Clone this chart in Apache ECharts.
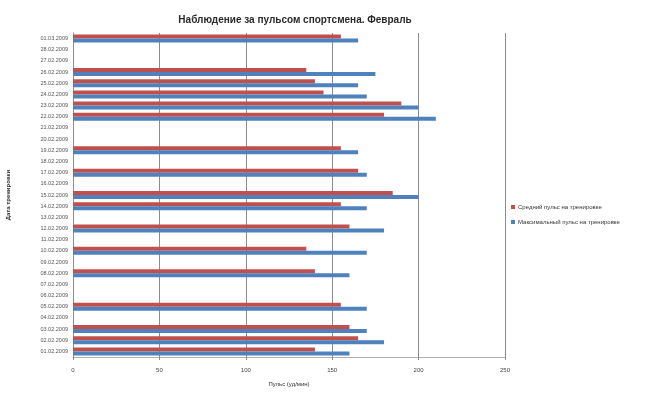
<!DOCTYPE html>
<html>
<head>
<meta charset="utf-8">
<script src="https://cdn.jsdelivr.net/npm/echarts@6/dist/echarts.min.js"></script>
<style>
  html, body { margin: 0; padding: 0; background: #ffffff; }
  #chart { width: 645px; height: 394px; }
</style>
</head>
<body>
<div id="chart"></div>
<script>
// Training dates, bottom to top
const dates = [
  '01.02.2009','02.02.2009','03.02.2009','04.02.2009','05.02.2009','06.02.2009','07.02.2009',
  '08.02.2009','09.02.2009','10.02.2009','11.02.2009','12.02.2009','13.02.2009','14.02.2009',
  '15.02.2009','16.02.2009','17.02.2009','18.02.2009','19.02.2009','20.02.2009','21.02.2009',
  '22.02.2009','23.02.2009','24.02.2009','25.02.2009','26.02.2009','27.02.2009','28.02.2009',
  '01.03.2009'
];

// Maximum heart rate per training (beats/min); null = no training
const maxPulse = [
  160, 180, 170, null, 170, null, null,
  160, null, 170, null, 180, null, 170,
  200, null, 170, null, 165, null, null,
  210, 200, 170, 165, 175, null, null,
  165
];

// Average heart rate per training (beats/min)
const avgPulse = [
  140, 165, 160, null, 155, null, null,
  140, null, 135, null, 160, null, 155,
  185, null, 165, null, 155, null, null,
  180, 190, 145, 140, 135, null, null,
  155
];

const xTicks = [0, 50, 100, 150, 200, 250];

const seriesNames = ['Средний пульс на тренировке', 'Максимальный пульс на тренировке'];

const chart = echarts.init(document.getElementById('chart'), null, { renderer: 'canvas' });

const labelFont = 'Liberation Sans, Arial, sans-serif';

chart.setOption({
  backgroundColor: '#ffffff',
  animation: false,
  title: {
    text: 'Наблюдение за пульсом спортсмена. Февраль',
    left: 290,
    top: 10,
    textAlign: 'center',
    textStyle: { fontFamily: labelFont, fontSize: 10, fontWeight: 'bold', color: '#2a2a2a' }
  },
  legend: {
    orient: 'vertical',
    left: 506,
    top: 199,
    itemWidth: 4,
    itemHeight: 4,
    itemGap: 9,
    icon: 'rect',
    data: seriesNames,
    textStyle: { fontFamily: labelFont, fontSize: 6, color: '#333333', padding: [0, 0, 0, -2] }
  },
  grid: { left: 73, right: 140, top: 33, bottom: 37, containLabel: false, outerBoundsMode: 'none' },
  xAxis: {
    type: 'value',
    min: xTicks[0],
    max: xTicks[xTicks.length - 1],
    interval: xTicks[1] - xTicks[0],
    name: 'Пульс (уд/мин)',
    nameLocation: 'middle',
    nameGap: 24,
    nameTextStyle: { fontFamily: labelFont, fontSize: 6, color: '#333333' },
    axisLine: { show: true, lineStyle: { color: '#b0b0b0', width: 1 } },
    axisTick: { show: true, length: 3, lineStyle: { color: '#8c8c8c' } },
    axisLabel: { fontFamily: labelFont, fontSize: 6, color: '#444444', margin: 10 },
    splitLine: { show: true, lineStyle: { color: '#8c8c8c', width: 1 } }
  },
  yAxis: {
    type: 'category',
    data: dates,
    name: 'Дата тренировки',
    nameLocation: 'middle',
    nameGap: 62,
    nameRotate: 90,
    nameTextStyle: { fontFamily: labelFont, fontSize: 6, fontWeight: 'bold', color: '#333333' },
    axisLine: { show: true, lineStyle: { color: '#8c8c8c', width: 1 } },
    axisTick: { show: false },
    axisLabel: { fontFamily: labelFont, fontSize: 5.5, color: '#555555', interval: 0, margin: 5 }
  },
  series: [
    {
      name: seriesNames[0],
      type: 'bar',
      data: avgPulse,
      barWidth: 4,
      barGap: '0%',
      itemStyle: { color: '#C0504D' }
    },
    {
      name: seriesNames[1],
      type: 'bar',
      data: maxPulse,
      barWidth: 4,
      barGap: '0%',
      itemStyle: { color: '#4F81BD' }
    }
  ]
});
</script>
</body>
</html>
